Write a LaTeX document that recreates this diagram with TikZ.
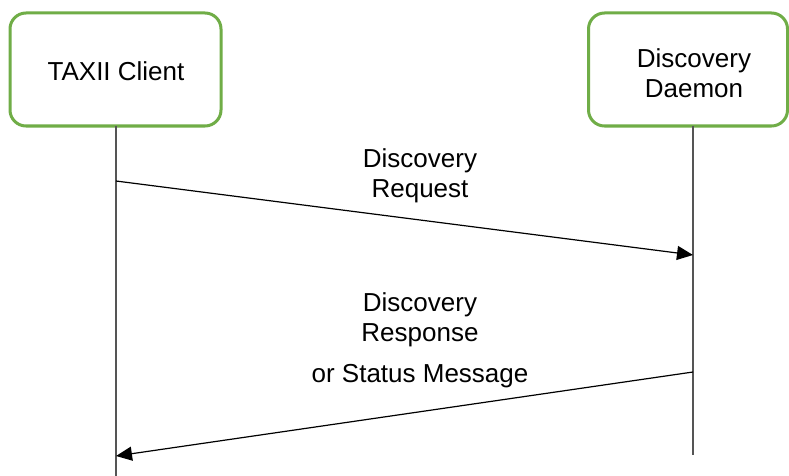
\documentclass[tikz,border=0pt]{standalone}
\usepackage{fontspec}
\setmainfont{Liberation Sans}
\usetikzlibrary{arrows.meta}
\definecolor{boxgreen}{HTML}{70AD47}
\definecolor{lifegray}{HTML}{555555}
\begin{document}
\begin{tikzpicture}[x=1pt,y=-1pt,
  actor/.style={draw=boxgreen, line width=3pt, rounded corners=16pt, fill=white, inner sep=0pt},
  txt/.style={align=center, font=\fontsize{26}{30}\selectfont, inner sep=0pt},
  lifeline/.style={draw=lifegray, line width=2pt},
  msg/.style={draw=black, line width=1.2pt, -{Triangle[length=16pt,width=14pt]}}
]
\useasboundingbox (0,0) rectangle (789,476);
% actors
\node[actor, minimum width=211pt, minimum height=113pt] (client) at (115.5,69.5) {};
\node[txt] (clienttext) at (116,71) {TAXII Client};
\node[actor, minimum width=199pt, minimum height=113pt] (daemon) at (688,69.5) {};
\node[txt] (daemontext) at (694,73) {Discovery\\Daemon};
% lifelines
\coordinate (cl1) at (116,126);
\coordinate (cl2) at (116,476);
\coordinate (dl1) at (693,126);
\coordinate (dl2) at (693,455);
\draw[lifeline] (cl1) -- (cl2);
\draw[lifeline] (dl1) -- (dl2);
% messages
\coordinate (m1s) at (116,181);
\coordinate (m1e) at (693,255);
\coordinate (m2s) at (693,372);
\coordinate (m2e) at (116,456);
\draw[msg] (m1s) -- (m1e);
\draw[msg] (m2s) -- (m2e);
% labels
\node[txt] (lab1) at (420,176) {Discovery\\Request};
\node[txt] (lab2) at (420,340) {Discovery\\Response\\[11pt]or Status Message};
\end{tikzpicture}
\end{document}
